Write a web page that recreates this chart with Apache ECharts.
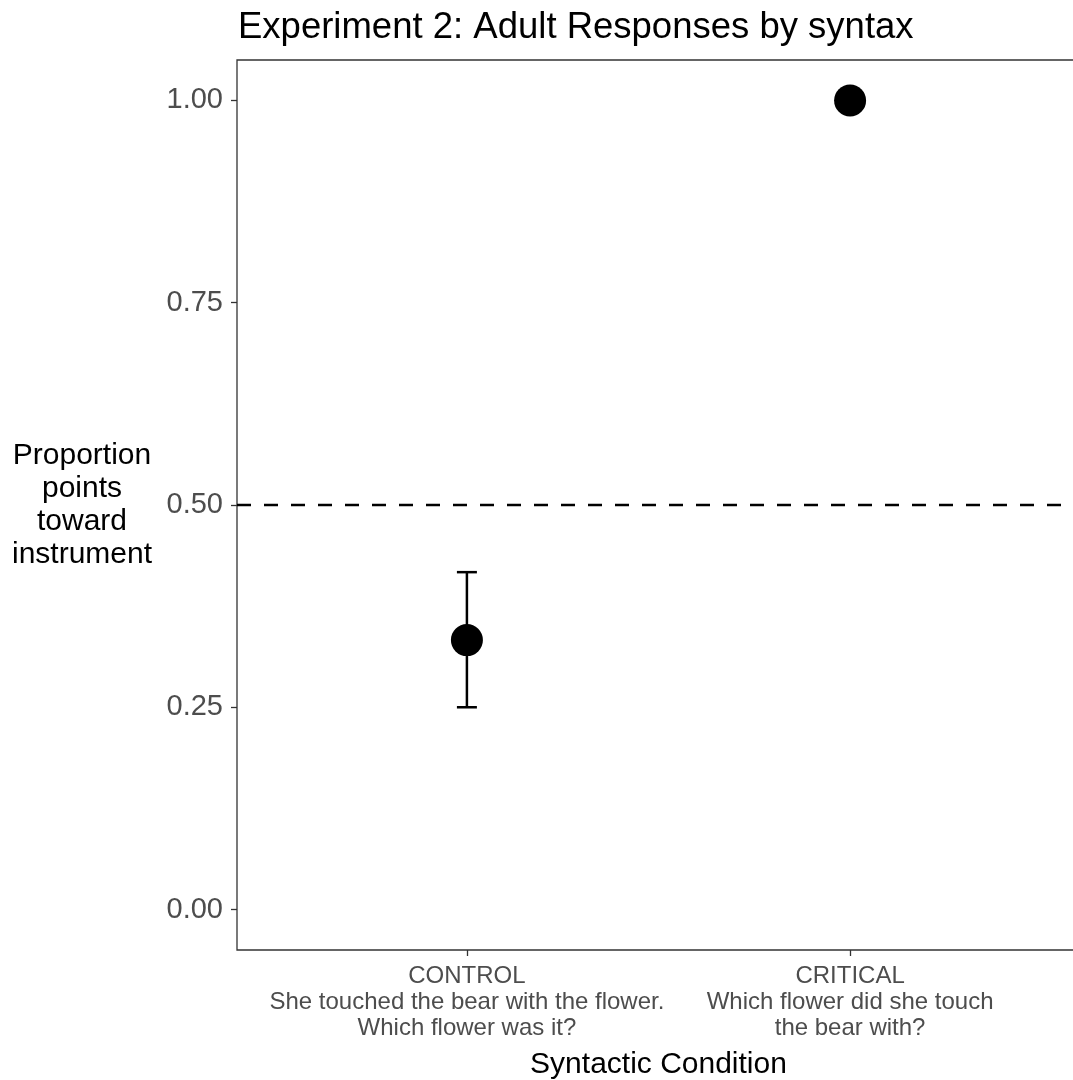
<!DOCTYPE html>
<html>
<head>
<meta charset="utf-8">
<script src="https://cdn.jsdelivr.net/npm/echarts@6/dist/echarts.min.js"></script>
<style>
  html, body { margin: 0; padding: 0; background: #fff; }
  #chart { width: 1073px; height: 1080px; }
</style>
</head>
<body>
<div id="chart"></div>
<script>
// category positions on the x scale (ggplot style discrete positions)
const conditions = [1, 2];
const conditionLabels = [
    'CONTROL\nShe touched the bear with the flower.\nWhich flower was it?',
    'CRITICAL\nWhich flower did she touch\nthe bear with?'
];
const means = [0.333, 1.0];
const lowerCI = [0.25, 1.0];
const upperCI = [0.417, 1.0];
const yTicks = [0, 0.25, 0.5, 0.75, 1.0];
const chanceLevel = 0.5;

let pointData = [];
let errData = [];
for (let i = 0; i < conditions.length; i++) {
    pointData.push([conditions[i], means[i]]);
    errData.push([conditions[i], lowerCI[i], upperCI[i]]);
}

const font = 'Liberation Sans, Arial, sans-serif';
let chart = echarts.init(document.getElementById('chart'));
let option = {
    animation: false,
    title: {
        text: 'Experiment 2: Adult Responses by syntax',
        left: 233,
        top: 4,
        textStyle: {
            color: '#000',
            fontWeight: 'normal',
            fontSize: 36.5,
            fontFamily: font
        }
    },
    grid: {
        left: 237,
        top: 60,
        width: 843,
        height: 890,
        show: true,
        borderColor: '#333',
        borderWidth: 1.3,
        containLabel: false,
        outerBoundsMode: 'none'
    },
    xAxis: {
        type: 'value',
        min: 0.4,
        max: 2.6,
        splitLine: { show: false },
        axisLine: { show: false, onZero: false },
        axisTick: {
            show: true,
            length: 6,
            lineStyle: { color: '#333', width: 1.3 },
            customValues: conditions
        },
        axisLabel: {
            customValues: conditions,
            margin: 13,
            color: '#4d4d4d',
            fontSize: 24,
            lineHeight: 26,
            fontFamily: font,
            align: 'center',
            formatter: v => conditionLabels[Math.round(v) - 1]
        },
        name: 'Syntactic Condition',
        nameLocation: 'middle',
        nameGap: 100,
        nameTextStyle: {
            color: '#000',
            fontSize: 30,
            fontFamily: font
        }
    },
    yAxis: {
        type: 'value',
        min: -0.05,
        max: 1.05,
        splitLine: { show: false },
        axisLine: { show: false, onZero: false },
        axisTick: {
            show: true,
            length: 6,
            lineStyle: { color: '#333', width: 1.3 },
            customValues: yTicks
        },
        axisLabel: {
            customValues: yTicks,
            margin: 14,
            color: '#4d4d4d',
            fontSize: 29,
            fontFamily: font,
            formatter: v => v.toFixed(2)
        },
        name: 'Proportion\npoints\ntoward\ninstrument',
        nameLocation: 'middle',
        nameRotate: 0,
        nameGap: 155,
        nameTextStyle: {
            color: '#000',
            fontSize: 30,
            lineHeight: 33,
            align: 'center',
            verticalAlign: 'middle',
            padding: [30, 0, 0, 0],
            fontFamily: font
        }
    },
    series: [
        {
            type: 'custom',
            name: 'ci',
            data: errData,
            renderItem: function (params, api) {
                let x = api.value(0);
                let lo = api.coord([x, api.value(1)]);
                let hi = api.coord([x, api.value(2)]);
                if (Math.abs(hi[1] - lo[1]) < 1) return null;
                let w = 10;
                let style = { stroke: '#000', lineWidth: 2.5 };
                return {
                    type: 'group',
                    children: [
                        { type: 'line', shape: { x1: lo[0], y1: lo[1], x2: hi[0], y2: hi[1] }, style: style },
                        { type: 'line', shape: { x1: lo[0] - w, y1: lo[1], x2: lo[0] + w, y2: lo[1] }, style: style },
                        { type: 'line', shape: { x1: hi[0] - w, y1: hi[1], x2: hi[0] + w, y2: hi[1] }, style: style }
                    ]
                };
            },
            markLine: {
                silent: true,
                symbol: 'none',
                label: { show: false },
                lineStyle: { color: '#000', type: [14, 13], width: 2.4 },
                data: [{ yAxis: chanceLevel }]
            }
        },
        {
            type: 'scatter',
            data: pointData,
            symbolSize: 32,
            itemStyle: { color: '#000', opacity: 1 }
        }
    ]
};
option && chart.setOption(option);
</script>
</body>
</html>
